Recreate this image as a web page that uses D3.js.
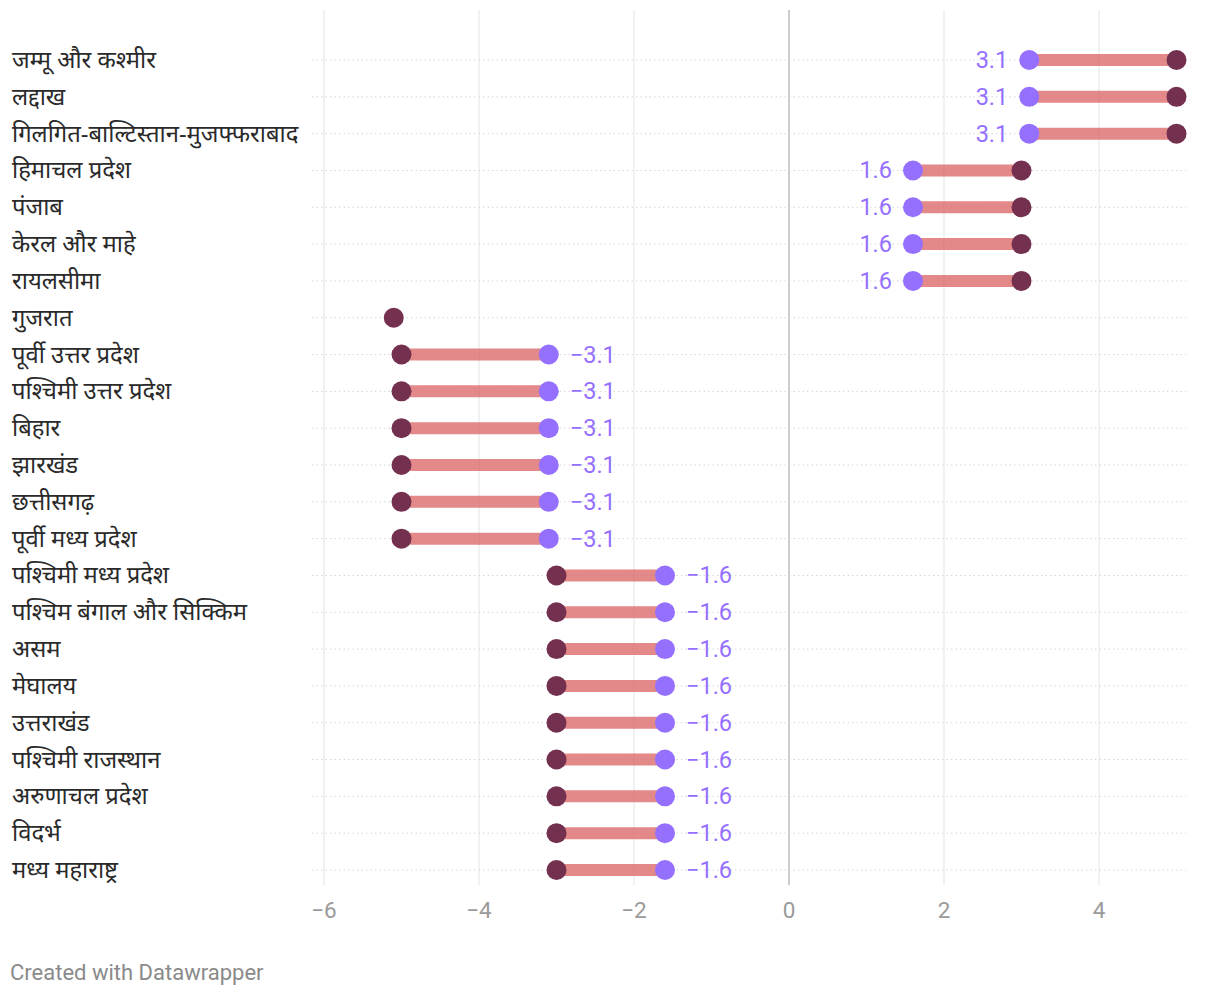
<!DOCTYPE html>
<html><head><meta charset="utf-8">
<script src="https://cdn.jsdelivr.net/npm/d3@7"></script>
<style>body{margin:0;background:#fff}</style>
</head><body>
<svg id="c" width="1220" height="996"></svg>
<script>
const categories = ["जम्मू और कश्मीर","लद्दाख","गिलगित-बाल्टिस्तान-मुजफ्फराबाद","हिमाचल प्रदेश","पंजाब","केरल और माहे","रायलसीमा","गुजरात","पूर्वी उत्तर प्रदेश","पश्चिमी उत्तर प्रदेश","बिहार","झारखंड","छत्तीसगढ़","पूर्वी मध्य प्रदेश","पश्चिमी मध्य प्रदेश","पश्चिम बंगाल और सिक्किम","असम","मेघालय","उत्तराखंड","पश्चिमी राजस्थान","अरुणाचल प्रदेश","विदर्भ","मध्य महाराष्ट्र"];
const startValues = [3.1,3.1,3.1,1.6,1.6,1.6,1.6,null,-3.1,-3.1,-3.1,-3.1,-3.1,-3.1,-1.6,-1.6,-1.6,-1.6,-1.6,-1.6,-1.6,-1.6,-1.6];
const endValues = [5.0,5.0,5.0,3.0,3.0,3.0,3.0,-5.1,-5.0,-5.0,-5.0,-5.0,-5.0,-5.0,-3.0,-3.0,-3.0,-3.0,-3.0,-3.0,-3.0,-3.0,-3.0];
const xTicks = [-6,-4,-2,0,2,4];

const svg = d3.select("#c");
const x = d3.scaleLinear().domain([-6,0]).range([324,789]);
const y = d3.scalePoint().domain(categories).range([60,870]);
const data = categories.map((c,i)=>({c, s:startValues[i], e:endValues[i]}));

// grid
svg.append("g").selectAll("line").data(xTicks).join("line")
  .attr("x1",d=>x(d)).attr("x2",d=>x(d)).attr("y1",10).attr("y2",885)
  .attr("stroke",d=>d===0?"#bdbdbd":"#e3e3e3").attr("stroke-width",d=>d===0?1.5:1);
// row lines
svg.append("g").selectAll("line").data(categories).join("line")
  .attr("x1",312).attr("x2",1186).attr("y1",d=>y(d)).attr("y2",d=>y(d))
  .attr("stroke","#d6d6d6").attr("stroke-dasharray","1.5,3").attr("stroke-width",1);
// axis labels
svg.append("g").selectAll("text").data(xTicks).join("text")
  .attr("x",d=>x(d)).attr("y",918).attr("text-anchor","middle")
  .attr("font-family","Roboto").attr("font-size",22.5).attr("fill","#9a9a9a")
  .text(d=>d<0?"\u2212"+Math.abs(d):d);
// category labels
svg.append("g").selectAll("text").data(categories).join("text")
  .attr("x",12).attr("y",d=>y(d)+8).attr("font-family","'Noto Sans', sans-serif")
  .attr("font-size",23.8).attr("fill","#2a2a2a").text(d=>d);
// bars
const withBoth = data.filter(d=>d.s!==null && d.e!==null);
svg.append("g").selectAll("line").data(withBoth).join("line")
  .attr("x1",d=>x(d.s)).attr("x2",d=>x(d.e)).attr("y1",d=>y(d.c)).attr("y2",d=>y(d.c))
  .attr("stroke","#dc6b6b").attr("stroke-opacity",0.8).attr("stroke-width",12);
// end dots
svg.append("g").selectAll("circle").data(data.filter(d=>d.e!==null)).join("circle")
  .attr("cx",d=>x(d.e)).attr("cy",d=>y(d.c)).attr("r",10).attr("fill","#74304f");
// start dots
svg.append("g").selectAll("circle").data(data.filter(d=>d.s!==null)).join("circle")
  .attr("cx",d=>x(d.s)).attr("cy",d=>y(d.c)).attr("r",10).attr("fill","#9570ff");
// value labels
svg.append("g").selectAll("text").data(data.filter(d=>d.s!==null)).join("text")
  .attr("x",d=>d.s>=0? x(d.s)-21 : x(d.s)+21)
  .attr("y",d=>y(d.c)+8)
  .attr("text-anchor",d=>d.s>=0?"end":"start")
  .attr("font-family","Roboto").attr("font-size",23.5).attr("fill","#9570ff")
  .text(d=>d.s<0?"\u2212"+Math.abs(d.s).toFixed(1):d.s.toFixed(1));
// footer
svg.append("text").attr("x",10).attr("y",980).attr("font-family","Roboto")
  .attr("font-size",22).attr("fill","#8a8a8a").text("Created with Datawrapper");
</script>
</body></html>
